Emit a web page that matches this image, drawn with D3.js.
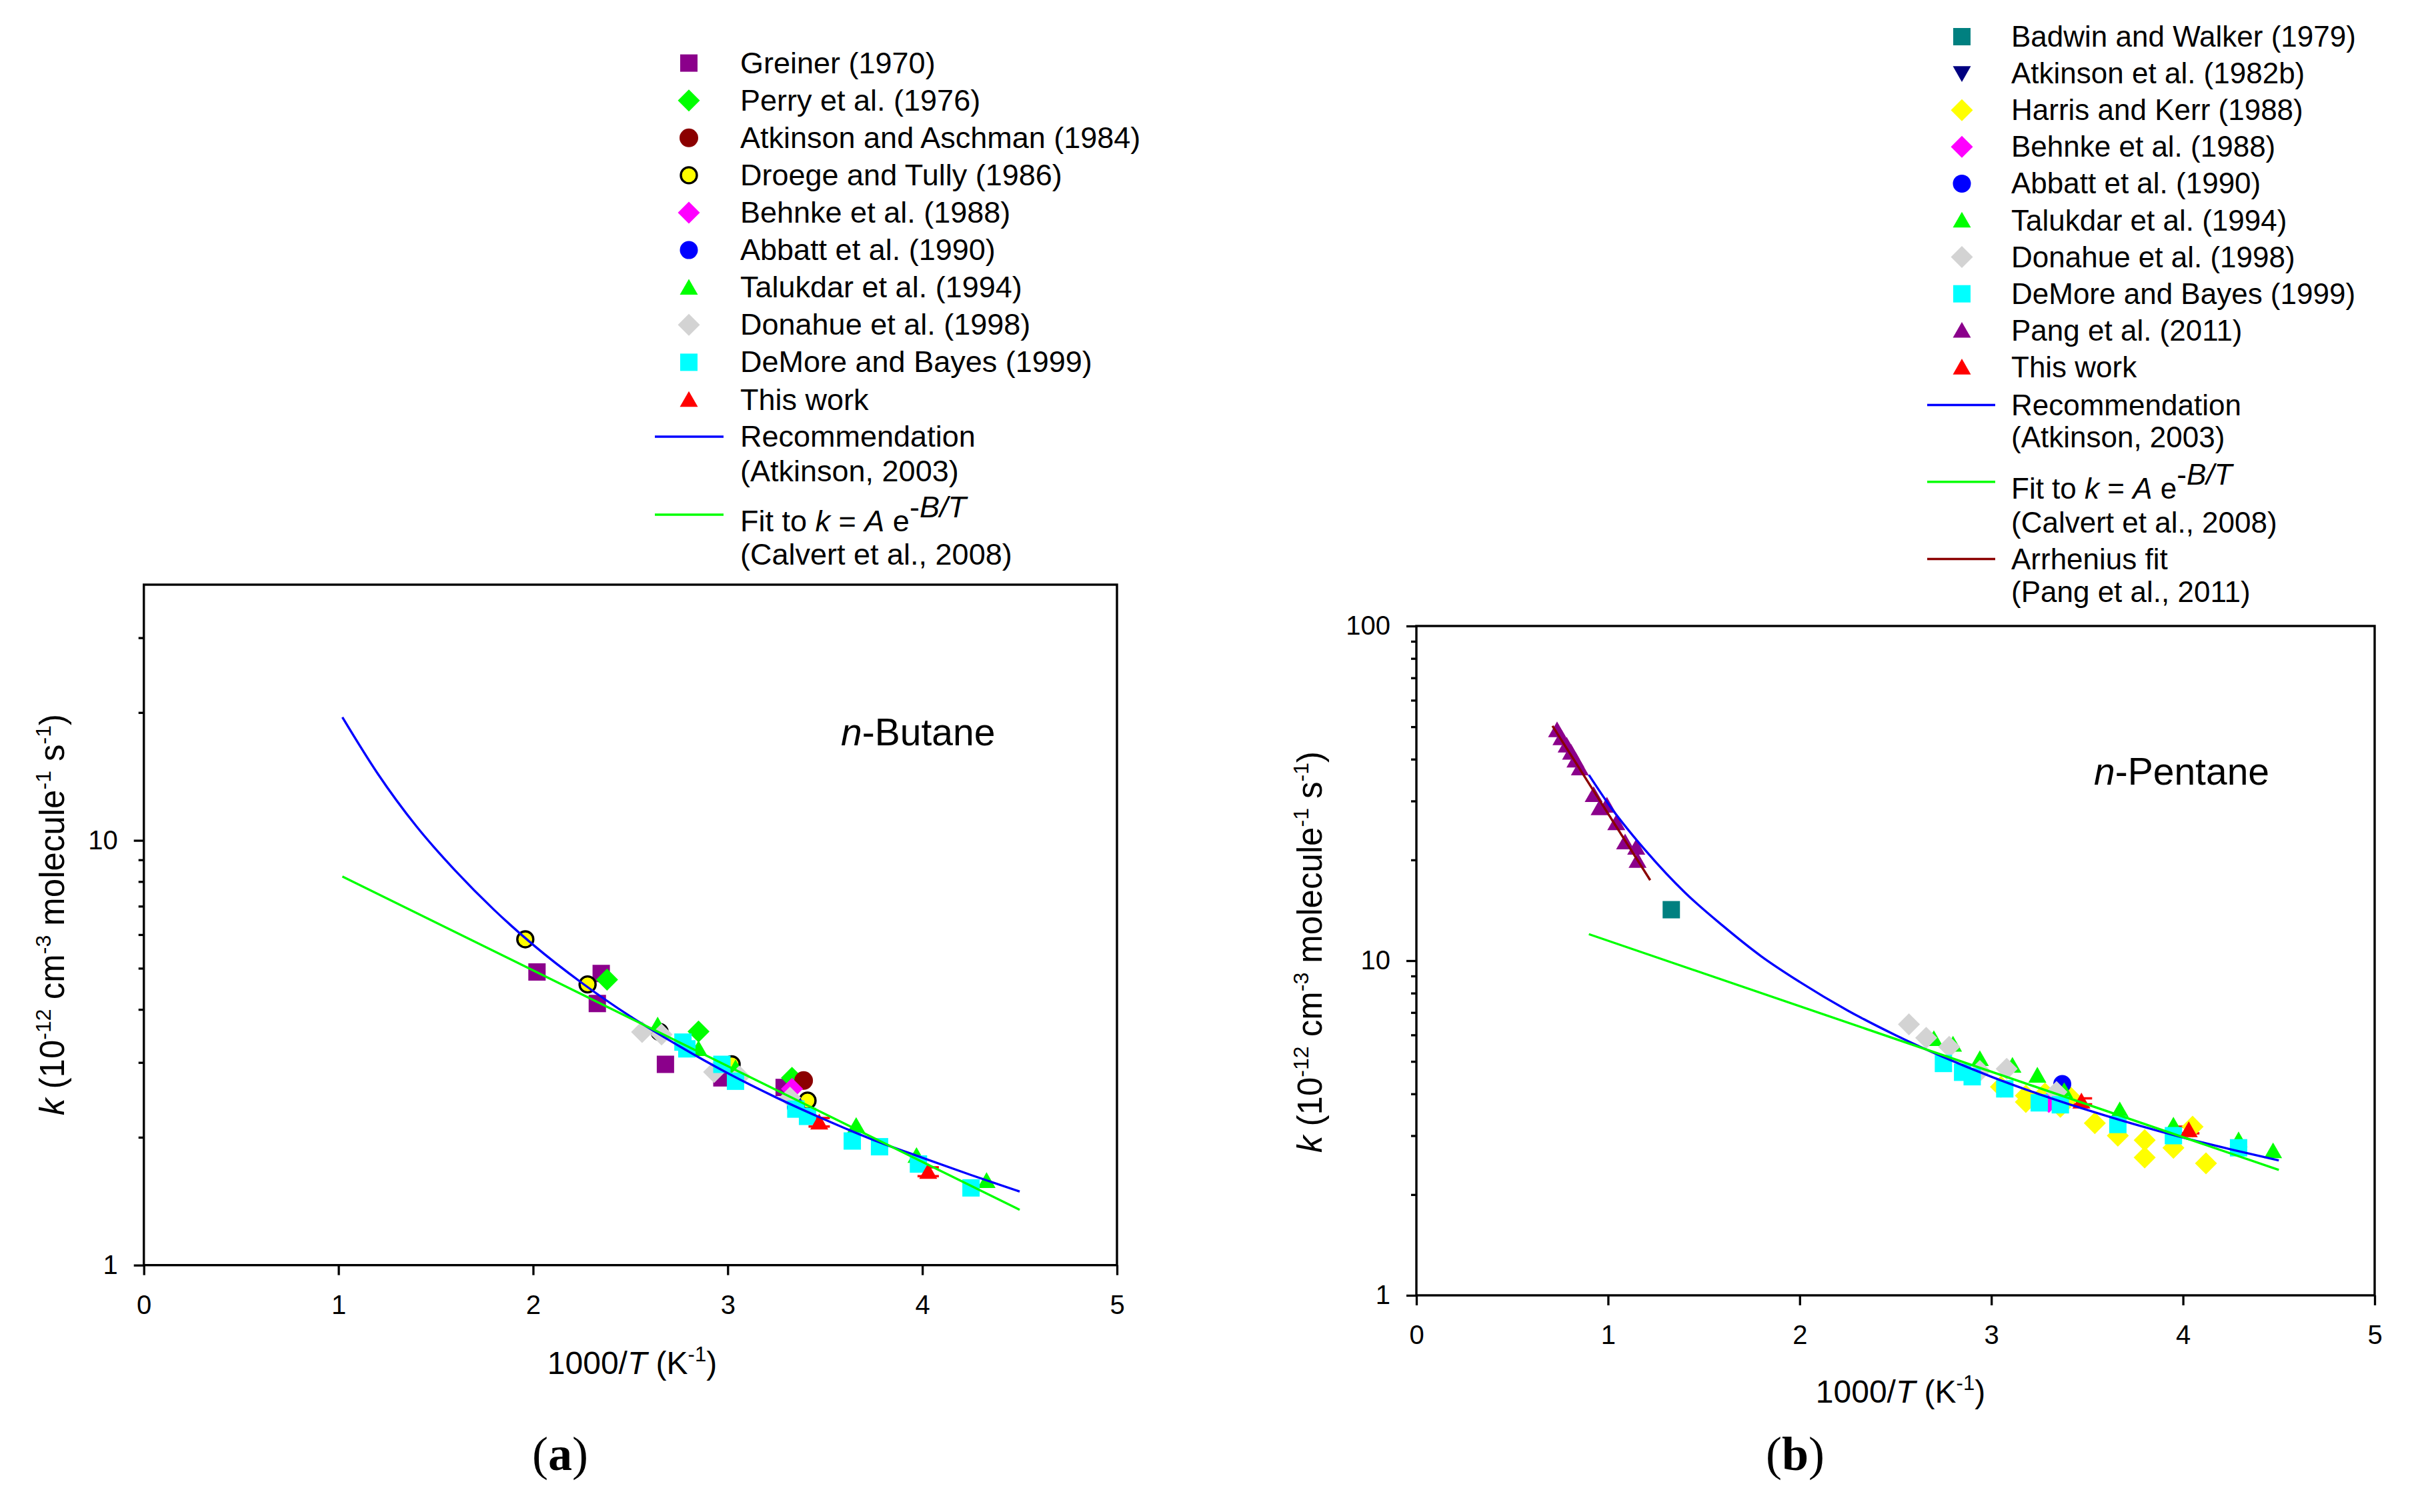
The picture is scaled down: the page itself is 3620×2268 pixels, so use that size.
<!DOCTYPE html>
<html><head><meta charset="utf-8">
<script src="https://cdn.jsdelivr.net/npm/d3@7/dist/d3.min.js"></script>
<style>html,body{margin:0;padding:0;background:#fff}svg{display:block}</style>
</head><body><svg id="c" width="3620" height="2268"></svg>
<script>
// ---------------- DATA (k in 10^-12 cm3 molecule-1 s-1 vs 1000/T) ----------------
const xTicks = [0, 1, 2, 3, 4, 5];
const aYTicks = [1, 10];
const bYTicks = [1, 10, 100];

// Panel (a) n-Butane
const aGreiner = [[2.02,4.90],[2.35,4.86],[2.33,4.13],[2.68,2.97],[2.97,2.76],[3.29,2.62]];
const aPerry = [[2.38,4.70],[2.85,3.55],[3.33,2.76]];
const aAtkinsonAschman = [[3.39,2.72]];
const aDroege = [[1.96,5.85],[2.28,4.58],[2.65,3.54],[3.02,2.97],[3.41,2.44]];
const aBehnke = [[3.33,2.60]];
const aAbbatt = [[3.35,2.36]];
const aTalukdar = [[2.64,3.67],[2.85,3.23],[3.04,2.91],[3.66,2.13],[3.97,1.81],[4.33,1.58]];
const aDonahue = [[2.56,3.54],[2.66,3.49],[2.93,2.85],[3.06,2.78],[3.32,2.48]];
const aDeMore = [[2.77,3.35],[2.79,3.23],[2.97,2.97],[3.04,2.71],[3.35,2.33],[3.41,2.24],[3.64,1.96],[3.78,1.90],[3.98,1.73],[4.25,1.52]];
const aThisWork = [[3.47,2.17],[4.03,1.66]];
const aThisWorkErr = [0.05, 0.04];
const aRecX = [1.02,1.2,1.4,1.6,1.8,2.0,2.25,2.5,2.75,3.0,3.25,3.5,3.75,4.0,4.25,4.5];
const aRecY = [19.5,14.4,10.8,8.49,6.86,5.68,4.62,3.85,3.28,2.83,2.48,2.20,1.97,1.79,1.63,1.49];
const aFitX = [1.02, 4.5];
const aFitY = [8.22, 1.35];

// Panel (b) n-Pentane
const bBadwin = [[1.33,14.2]];
const bAtkinson82b = [[3.36,3.95]];
const bHarris = [[3.05,4.20],[3.18,3.95],[3.18,3.78],[3.28,4.01],[3.36,3.66],[3.41,3.92],[3.54,3.27],[3.66,3.00],[3.80,2.91],[3.80,2.58],[3.95,2.76],[4.05,3.19],[4.12,2.48]];
const bBehnke = [[3.30,3.78]];
const bAbbatt = [[3.37,4.28]];
const bTalukdar = [[2.70,5.84],[2.80,5.62],[2.94,5.09],[3.11,4.86],[3.24,4.54],[3.38,4.08],[3.67,3.58],[3.95,3.22],[4.29,2.91],[4.47,2.70]];
const bDonahue = [[2.57,6.45],[2.66,5.88],[2.78,5.53],[2.94,4.68],[3.08,4.75],[3.34,4.05]];
const bDeMore = [[2.75,4.93],[2.85,4.64],[2.90,4.50],[3.07,4.14],[3.25,3.76],[3.36,3.71],[3.66,3.24],[3.95,3.00],[4.29,2.76]];
const bPang = [[0.734,48.9],[0.757,46.3],[0.784,44.0],[0.807,41.9],[0.830,39.7],[0.853,37.6],[0.925,31.3],[0.956,28.6],[0.994,29.1],[1.043,25.8],[1.089,22.6],[1.147,21.8],[1.154,19.9]];
const bThisWork = [[3.47,3.80],[4.03,3.12]];
const bThisWorkErr = [0.08, 0.07];
const bRecX = [0.90,1.0,1.2,1.4,1.6,1.8,2.0,2.25,2.5,2.75,3.0,3.25,3.5,3.75,4.0,4.25,4.5];
const bRecY = [35.9,29.5,21.2,16.0,12.7,10.3,8.64,7.10,5.99,5.15,4.50,3.99,3.58,3.24,2.96,2.73,2.53];
const bFitX = [0.90, 4.5];
const bFitY = [12.0, 2.37];
const bPangFitX = [0.71, 1.22];
const bPangFitY = [50.3, 17.4];

const aLegend = ["Greiner (1970)","Perry et al. (1976)","Atkinson and Aschman (1984)","Droege and Tully (1986)","Behnke et al. (1988)","Abbatt et al. (1990)","Talukdar et al. (1994)","Donahue et al. (1998)","DeMore and Bayes (1999)","This work"];
const bLegend = ["Badwin and Walker (1979)","Atkinson et al. (1982b)","Harris and Kerr (1988)","Behnke et al. (1988)","Abbatt et al. (1990)","Talukdar et al. (1994)","Donahue et al. (1998)","DeMore and Bayes (1999)","Pang et al. (2011)","This work"];

// ---------------- STYLE ----------------
const FONT = "'Liberation Sans', Arial, Helvetica, sans-serif";
const symSquare = {draw(c,s){const h=s/2;c.moveTo(-h,-h);c.lineTo(h,-h);c.lineTo(h,h);c.lineTo(-h,h);c.closePath();}};
const symDiamond = {draw(c,s){const h=s/2;c.moveTo(0,-h);c.lineTo(h,0);c.lineTo(0,h);c.lineTo(-h,0);c.closePath();}};
const symCircle = {draw(c,s){const r=s/2;c.moveTo(r,0);c.arc(0,0,r,0,2*Math.PI);c.closePath();}};
const symTriUp = {draw(c,s){const h=s/2;c.moveTo(0,-h*0.95);c.lineTo(h,h*0.8);c.lineTo(-h,h*0.8);c.closePath();}};
const symTriDown = {draw(c,s){const h=s/2;c.moveTo(0,h*0.95);c.lineTo(h,-h*0.8);c.lineTo(-h,-h*0.8);c.closePath();}};

const st = {
  purpleSq:{type:symSquare,size:26,fill:"#8B008B"},
  greenDia:{type:symDiamond,size:33,fill:"#00FF00"},
  maroonCir:{type:symCircle,size:28,fill:"#8B0000"},
  yellowCirO:{type:symCircle,size:24,fill:"#FFFF00",stroke:"#000",sw:3.4},
  magentaDia:{type:symDiamond,size:33,fill:"#FF00FF"},
  blueCir:{type:symCircle,size:27,fill:"#0000FF"},
  greenTri:{type:symTriUp,size:27,fill:"#00FF00"},
  greyDia:{type:symDiamond,size:33,fill:"#D3D3D3"},
  cyanSq:{type:symSquare,size:26,fill:"#00FFFF"},
  redTri:{type:symTriUp,size:27,fill:"#FF0000"},
  tealSq:{type:symSquare,size:26,fill:"#008080"},
  navyTriDown:{type:symTriDown,size:27,fill:"#000080"},
  yellowDia:{type:symDiamond,size:33,fill:"#FFFF00"},
  purpleTri:{type:symTriUp,size:27,fill:"#8B008B"}
};

const svg = d3.select("#c");
svg.append("rect").attr("width",3620).attr("height",2268).attr("fill","#fff");

function marker(g, style, cx, cy){
  g.append("path").attr("transform",`translate(${cx},${cy})`)
    .attr("d", d3.symbol().type(style.type).size(style.size)())
    .attr("fill", style.fill).attr("stroke", style.stroke||"none").attr("stroke-width", style.sw||0);
}

function drawPanel(cfg){
  const x = d3.scaleLinear().domain([0,5]).range([cfg.left,cfg.right]);
  const y = d3.scaleLog().domain([1,cfg.ymax]).range([cfg.bottom,cfg.top]);
  const g = svg.append("g");

  // error bars of this work
  if (cfg.err){
    const eg = g.append("g");
    cfg.err.data.forEach((d,i)=>{
      const e = cfg.err.e[i];
      const cx = x(d[0]), y1 = y(d[1]-e), y2 = y(d[1]+e);
      eg.append("line").attr("x1",cx).attr("x2",cx).attr("y1",y1).attr("y2",y2).attr("stroke","#FF0000").attr("stroke-width",3);
      [y1,y2].forEach(yy=>eg.append("line").attr("x1",cx-16).attr("x2",cx+16).attr("y1",yy).attr("y2",yy).attr("stroke","#FF0000").attr("stroke-width",3.5));
    });
  }
  // markers
  cfg.series.forEach(s=>{
    const S = st[s.style];
    g.append("g").selectAll("path").data(s.data).join("path")
      .attr("transform", d=>`translate(${x(d[0])},${y(d[1])})`)
      .attr("d", d3.symbol().type(S.type).size(S.size))
      .attr("fill", S.fill).attr("stroke", S.stroke||"none").attr("stroke-width", S.sw||0);
  });
  // lines
  cfg.lines.forEach(l=>{
    const pts = l.x.map((v,i)=>[v,l.y[i]]);
    g.append("path").datum(pts)
      .attr("d", d3.line().x(d=>x(d[0])).y(d=>y(d[1])).curve(l.x.length>2?d3.curveMonotoneX:d3.curveLinear))
      .attr("fill","none").attr("stroke",l.color).attr("stroke-width",3.4);
  });

  // axes
  const ax = g.append("g").attr("transform",`translate(0,${cfg.bottom})`)
    .call(d3.axisBottom(x).tickValues(xTicks).tickFormat(d3.format("d")).tickSize(15).tickPadding(30));
  const ay = g.append("g").attr("transform",`translate(${cfg.left},0)`)
    .call(d3.axisLeft(y).tickValues(cfg.yTicks).tickFormat(d3.format("d")).tickSize(15).tickPadding(24));
  const minor = [];
  for (let dec=1; dec<cfg.ymax; dec*=10) for (let m=2; m<=9; m++){ const v=m*dec; if (v<cfg.ymax) minor.push(v); }
  const aym = g.append("g").attr("transform",`translate(${cfg.left},0)`)
    .call(d3.axisLeft(y).tickValues(minor).tickFormat("").tickSize(8));
  [ax,ay,aym].forEach(a=>{
    a.select(".domain").remove();
    a.selectAll("line").attr("stroke","#000").attr("stroke-width",3.3);
    a.selectAll("text").attr("font-size",40).attr("font-family",FONT).attr("fill","#000");
  });
  g.append("rect").attr("x",cfg.left).attr("y",cfg.top).attr("width",cfg.right-cfg.left).attr("height",cfg.bottom-cfg.top)
    .attr("fill","none").attr("stroke","#000").attr("stroke-width",3.4);

  // x label
  const xl = g.append("text").attr("x",cfg.xlab[0]).attr("y",cfg.xlab[1]).attr("text-anchor","middle")
    .attr("font-family",FONT).attr("font-size",48).attr("fill","#000");
  xl.append("tspan").text("1000/");
  xl.append("tspan").attr("font-style","italic").text("T");
  xl.append("tspan").text(" (K");
  xl.append("tspan").attr("font-size",31).attr("dy",-19).text("-1");
  xl.append("tspan").attr("dy",19).text(")");

  // y label
  const yl = g.append("text").attr("transform",`translate(${cfg.ylab[0]},${cfg.ylab[1]}) rotate(-90)`)
    .attr("text-anchor","middle").attr("font-family",FONT).attr("font-size",51).attr("fill","#000");
  yl.append("tspan").attr("font-style","italic").text("k");
  yl.append("tspan").text(" (10");
  yl.append("tspan").attr("font-size",32).attr("dy",-20).text("-12");
  yl.append("tspan").attr("dy",20).text(" cm");
  yl.append("tspan").attr("font-size",32).attr("dy",-20).text("-3");
  yl.append("tspan").attr("dy",20).text(" molecule");
  yl.append("tspan").attr("font-size",32).attr("dy",-20).text("-1");
  yl.append("tspan").attr("dy",20).text(" s");
  yl.append("tspan").attr("font-size",32).attr("dy",-20).text("-1");
  yl.append("tspan").attr("dy",20).text(")");

  // compound name
  const tn = g.append("text").attr("x",cfg.name[0]).attr("y",cfg.name[1]).attr("font-family",FONT).attr("font-size",57).attr("fill","#000");
  tn.append("tspan").attr("font-style","italic").text("n");
  tn.append("tspan").text(cfg.name[2]);

  // panel letter
  const pl = svg.append("text").attr("x",cfg.letter[0]).attr("y",cfg.letter[1]).attr("text-anchor","middle")
    .attr("font-family","'Liberation Serif','Times New Roman',serif").attr("font-size",72).attr("fill","#000");
  pl.append("tspan").text("(");
  pl.append("tspan").attr("font-weight","bold").text(cfg.letter[2]);
  pl.append("tspan").text(")");

  // legend
  const lg = svg.append("g").attr("font-family",FONT).attr("font-size",cfg.legend.fs).attr("fill","#000");
  cfg.legend.labels.forEach((lab,i)=>{
    const cy = cfg.legend.y0 + i*cfg.legend.dy;
    marker(lg, st[cfg.series[i].style], cfg.legend.mx, cy);
    lg.append("text").attr("x",cfg.legend.tx).attr("y",cy+15).text(lab);
  });
  cfg.legend.lines.forEach(L=>{
    lg.append("line").attr("x1",cfg.legend.lx0).attr("x2",cfg.legend.lx1).attr("y1",L.y).attr("y2",L.y)
      .attr("stroke",L.color).attr("stroke-width",3.6);
    L.rows.forEach(r=>{
      const t = lg.append("text").attr("x",cfg.legend.tx).attr("y",r.y+15);
      if (r.fit){
        t.append("tspan").text("Fit to ");
        t.append("tspan").attr("font-style","italic").text("k");
        t.append("tspan").text(" = ");
        t.append("tspan").attr("font-style","italic").text("A");
        t.append("tspan").text(" e");
        t.append("tspan").attr("dy",-21).text("-");
        t.append("tspan").attr("font-style","italic").text("B/T");
      } else t.text(r.t);
    });
  });
}

drawPanel({
  left:215.7,right:1675,top:877,bottom:1897.7,ymax:40,yTicks:aYTicks,
  series:[{data:aGreiner,style:"purpleSq"},{data:aPerry,style:"greenDia"},{data:aAtkinsonAschman,style:"maroonCir"},
          {data:aDroege,style:"yellowCirO"},{data:aBehnke,style:"magentaDia"},{data:aAbbatt,style:"blueCir"},
          {data:aTalukdar,style:"greenTri"},{data:aDonahue,style:"greyDia"},{data:aDeMore,style:"cyanSq"},
          {data:aThisWork,style:"redTri"}],
  err:{data:aThisWork,e:aThisWorkErr},
  lines:[{x:aRecX,y:aRecY,color:"#0000FF"},{x:aFitX,y:aFitY,color:"#00FF00"}],
  xlab:[948,2061], ylab:[96,1372], name:[1261,1118,"-Butane"], letter:[840,2205,"a"],
  legend:{labels:aLegend,fs:45,y0:94.6,dy:56.1,mx:1033,tx:1110,lx0:982,lx1:1085,
    lines:[{color:"#0000FF",y:655,rows:[{t:"Recommendation",y:655},{t:"(Atkinson, 2003)",y:707}]},
           {color:"#00FF00",y:772,rows:[{fit:true,y:782},{t:"(Calvert et al., 2008)",y:832}]}]}
});

drawPanel({
  left:2124,right:3561,top:939,bottom:1943,ymax:100,yTicks:bYTicks,
  series:[{data:bBadwin,style:"tealSq"},{data:bAtkinson82b,style:"navyTriDown"},{data:bHarris,style:"yellowDia"},
          {data:bBehnke,style:"magentaDia"},{data:bAbbatt,style:"blueCir"},{data:bTalukdar,style:"greenTri"},
          {data:bDonahue,style:"greyDia"},{data:bDeMore,style:"cyanSq"},{data:bPang,style:"purpleTri"},
          {data:bThisWork,style:"redTri"}],
  err:{data:bThisWork,e:bThisWorkErr},
  lines:[{x:bRecX,y:bRecY,color:"#0000FF"},{x:bFitX,y:bFitY,color:"#00FF00"},{x:bPangFitX,y:bPangFitY,color:"#8B0000"}],
  xlab:[2850,2104], ylab:[1982,1428], name:[3140,1177,"-Pentane"], letter:[2692,2205,"b"],
  legend:{labels:bLegend,fs:44,y0:55,dy:55.1,mx:2942,tx:3016,lx0:2890,lx1:2992,
    lines:[{color:"#0000FF",y:607.5,rows:[{t:"Recommendation",y:607.5},{t:"(Atkinson, 2003)",y:656}]},
           {color:"#00FF00",y:722.7,rows:[{fit:true,y:733},{t:"(Calvert et al., 2008)",y:784}]},
           {color:"#8B0000",y:838.5,rows:[{t:"Arrhenius fit",y:838.5},{t:"(Pang et al., 2011)",y:888}]}]}
});
</script></body></html>
